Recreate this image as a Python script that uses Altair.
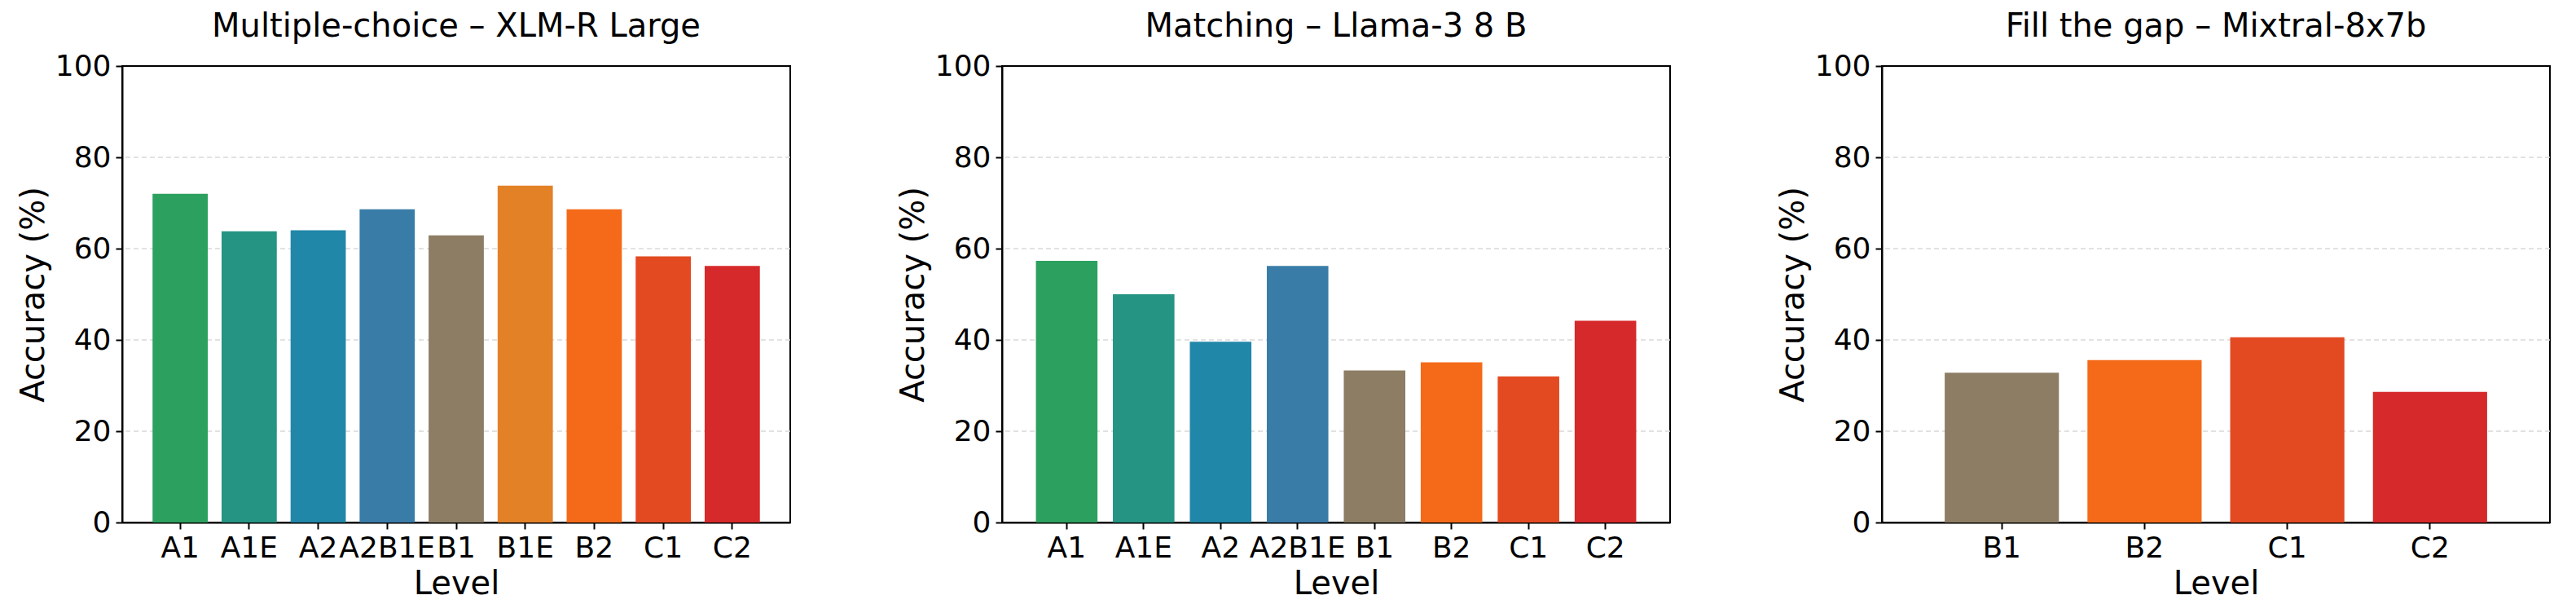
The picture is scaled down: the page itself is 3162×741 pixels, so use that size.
import altair as alt
import pandas as pd

colors = {
    "A1": "#2ca05e", "A1E": "#259483", "A2": "#2187a8", "A2B1E": "#3a7ca8",
    "B1": "#8c7d64", "B1E": "#e38127", "B2": "#f46a18", "C1": "#e34a22", "C2": "#d6292b",
}

mc_levels = ["A1", "A1E", "A2", "A2B1E", "B1", "B1E", "B2", "C1", "C2"]
mc_values = [72.0, 63.8, 64.0, 68.6, 62.9, 73.8, 68.6, 58.3, 56.2]

match_levels = ["A1", "A1E", "A2", "A2B1E", "B1", "B2", "C1", "C2"]
match_values = [57.3, 50.0, 39.6, 56.2, 33.3, 35.1, 32.0, 44.2]

gap_levels = ["B1", "B2", "C1", "C2"]
gap_values = [32.8, 35.6, 40.6, 28.6]

grid_values = [20, 40, 60, 80]

panels = [
    ("Multiple-choice – XLM-R Large", mc_levels, mc_values),
    ("Matching – Llama-3 8 B", match_levels, match_values),
    ("Fill the gap – Mixtral-8x7b", gap_levels, gap_values),
]

color_scale = alt.Scale(domain=list(colors.keys()), range=list(colors.values()))


def panel(title, levels, values):
    df = pd.DataFrame({"Level": levels, "Accuracy": values})
    y_scale = alt.Scale(domain=[0, 100], nice=False)
    bars = alt.Chart(df).mark_bar().encode(
        x=alt.X("Level:N", sort=levels, title="Level",
                scale=alt.Scale(paddingInner=0.2, paddingOuter=0.44),
                axis=alt.Axis(labelAngle=0, grid=False)),
        y=alt.Y("Accuracy:Q", title="Accuracy (%)", scale=y_scale,
                axis=alt.Axis(values=[0, 20, 40, 60, 80, 100], grid=False)),
        color=alt.Color("Level:N", scale=color_scale, legend=None),
    )
    grid = alt.Chart(pd.DataFrame({"g": grid_values})).mark_rule(
        color="#d9d9d9", strokeDash=[6, 4], strokeWidth=1.5
    ).encode(y=alt.Y("g:Q", scale=y_scale))
    return alt.layer(grid, bars, title=title).properties(width=820, height=560)


chart = alt.hconcat(*[panel(*p) for p in panels], spacing=128).properties(
    background="white", padding={"left": 12, "top": 4, "right": 5, "bottom": 5}
).configure_axis(
    labelFont="DejaVu Sans", titleFont="DejaVu Sans",
    labelFontSize=36, titleFontSize=40, labelColor="#000", titleColor="#000",
    titleFontWeight="normal", domainColor="#000", tickColor="#000",
    tickSize=8, domainWidth=2, tickWidth=2, labelPadding=6, titlePadding=6,
).configure_title(
    font="DejaVu Sans", fontSize=40, fontWeight="normal", color="#000", offset=10,
).configure_view(
    stroke="#000", strokeWidth=2,
)

chart.save("out.html", embed_options={"renderer": "svg", "actions": False})
